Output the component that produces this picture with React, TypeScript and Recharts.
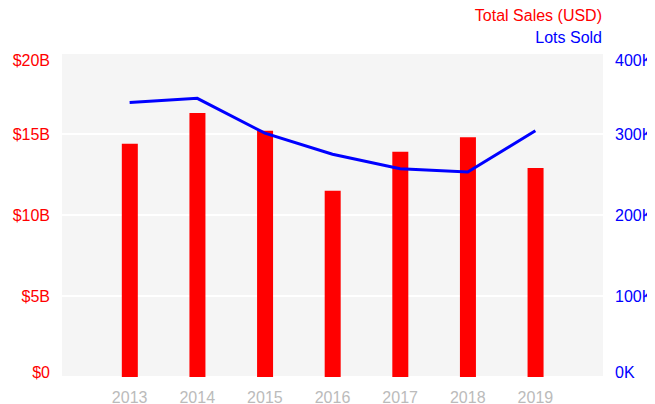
import React from 'react';
import { ComposedChart, Bar, Line, XAxis, YAxis, CartesianGrid } from 'recharts';

const years = [2013, 2014, 2015, 2016, 2017, 2018, 2019];
const totalSalesB = [14.4, 16.3, 15.2, 11.5, 13.9, 14.8, 12.9]; // billions USD
const lotsSoldK = [339, 344, 301, 275, 257, 253, 304]; // thousands
const salesTicks = [0, 5, 10, 15, 20];
const lotsTicks = [0, 100, 200, 300, 400];

const RED = '#ff0000';
const BLUE = '#0000ff';
const FONT = '"Liberation Sans", Arial, sans-serif';

const data = years.map((year, i) => ({ year, sales: totalSalesB[i], lots: lotsSoldK[i] }));

const legendItems = [
  { name: 'Total Sales (USD)', color: RED },
  { name: 'Lots Sold', color: BLUE },
];

// end labels are nudged inward so they stay inside the plot's height
const edgeShift = (v: number, min: number, max: number) => (v === max ? 7 : v === min ? -5 : 0);

const SalesTick = ({ x, y, payload }: any) => (
  <text x={x} y={y + edgeShift(payload.value, 0, 20) + 5.7} textAnchor="end" fill={RED} fontSize={16} fontFamily={FONT}>
    {payload.value === 0 ? '$0' : `$${payload.value}B`}
  </text>
);

const LotsTick = ({ x, y, payload }: any) => (
  <text x={x} y={y + edgeShift(payload.value, 0, 400) + 5.7} textAnchor="start" fill={BLUE} fontSize={16} fontFamily={FONT}>
    {`${payload.value}K`}
  </text>
);

const YearTick = ({ x, y, payload }: any) => (
  <text x={x} y={y + 23.5} textAnchor="middle" fill="#bbbbbb" fontSize={16} fontFamily={FONT}>
    {payload.value}
  </text>
);

export default function App() {
  return (
    <div style={{ position: 'relative', width: 655, height: 404, marginLeft: -8, marginTop: -8, fontFamily: FONT }}>
      <div style={{ position: 'absolute', top: 5, right: 53, textAlign: 'right', fontSize: 16, lineHeight: '22px' }}>
        {legendItems.map((item) => (
          <div key={item.name} style={{ color: item.color }}>{item.name}</div>
        ))}
      </div>
      <ComposedChart width={655} height={404} data={data} margin={{ top: 53, right: 0, bottom: 0, left: 0 }}>
        <CartesianGrid yAxisId="left" vertical={false} fill="#f5f5f5" stroke="#ffffff" strokeWidth={2} />
        <XAxis
          dataKey="year"
          type="number"
          domain={[2012, 2020]}
          ticks={years}
          height={27}
          axisLine={false}
          tickLine={false}
          tickSize={0}
          tick={<YearTick />}
        />
        <YAxis
          yAxisId="left"
          domain={[0, 20]}
          ticks={salesTicks}
          width={62}
          axisLine={false}
          tickLine={false}
          tickSize={0}
          tickMargin={12}
          tick={<SalesTick />}
        />
        <YAxis
          yAxisId="right"
          orientation="right"
          domain={[0, 400]}
          ticks={lotsTicks}
          width={52}
          axisLine={false}
          tickLine={false}
          tickSize={0}
          tickMargin={12}
          tick={<LotsTick />}
        />
        <Bar yAxisId="left" dataKey="sales" fill={RED} barSize={16} isAnimationActive={false} />
        <Line yAxisId="right" dataKey="lots" stroke={BLUE} strokeWidth={3} dot={false} type="linear" isAnimationActive={false} />
      </ComposedChart>
    </div>
  );
}
